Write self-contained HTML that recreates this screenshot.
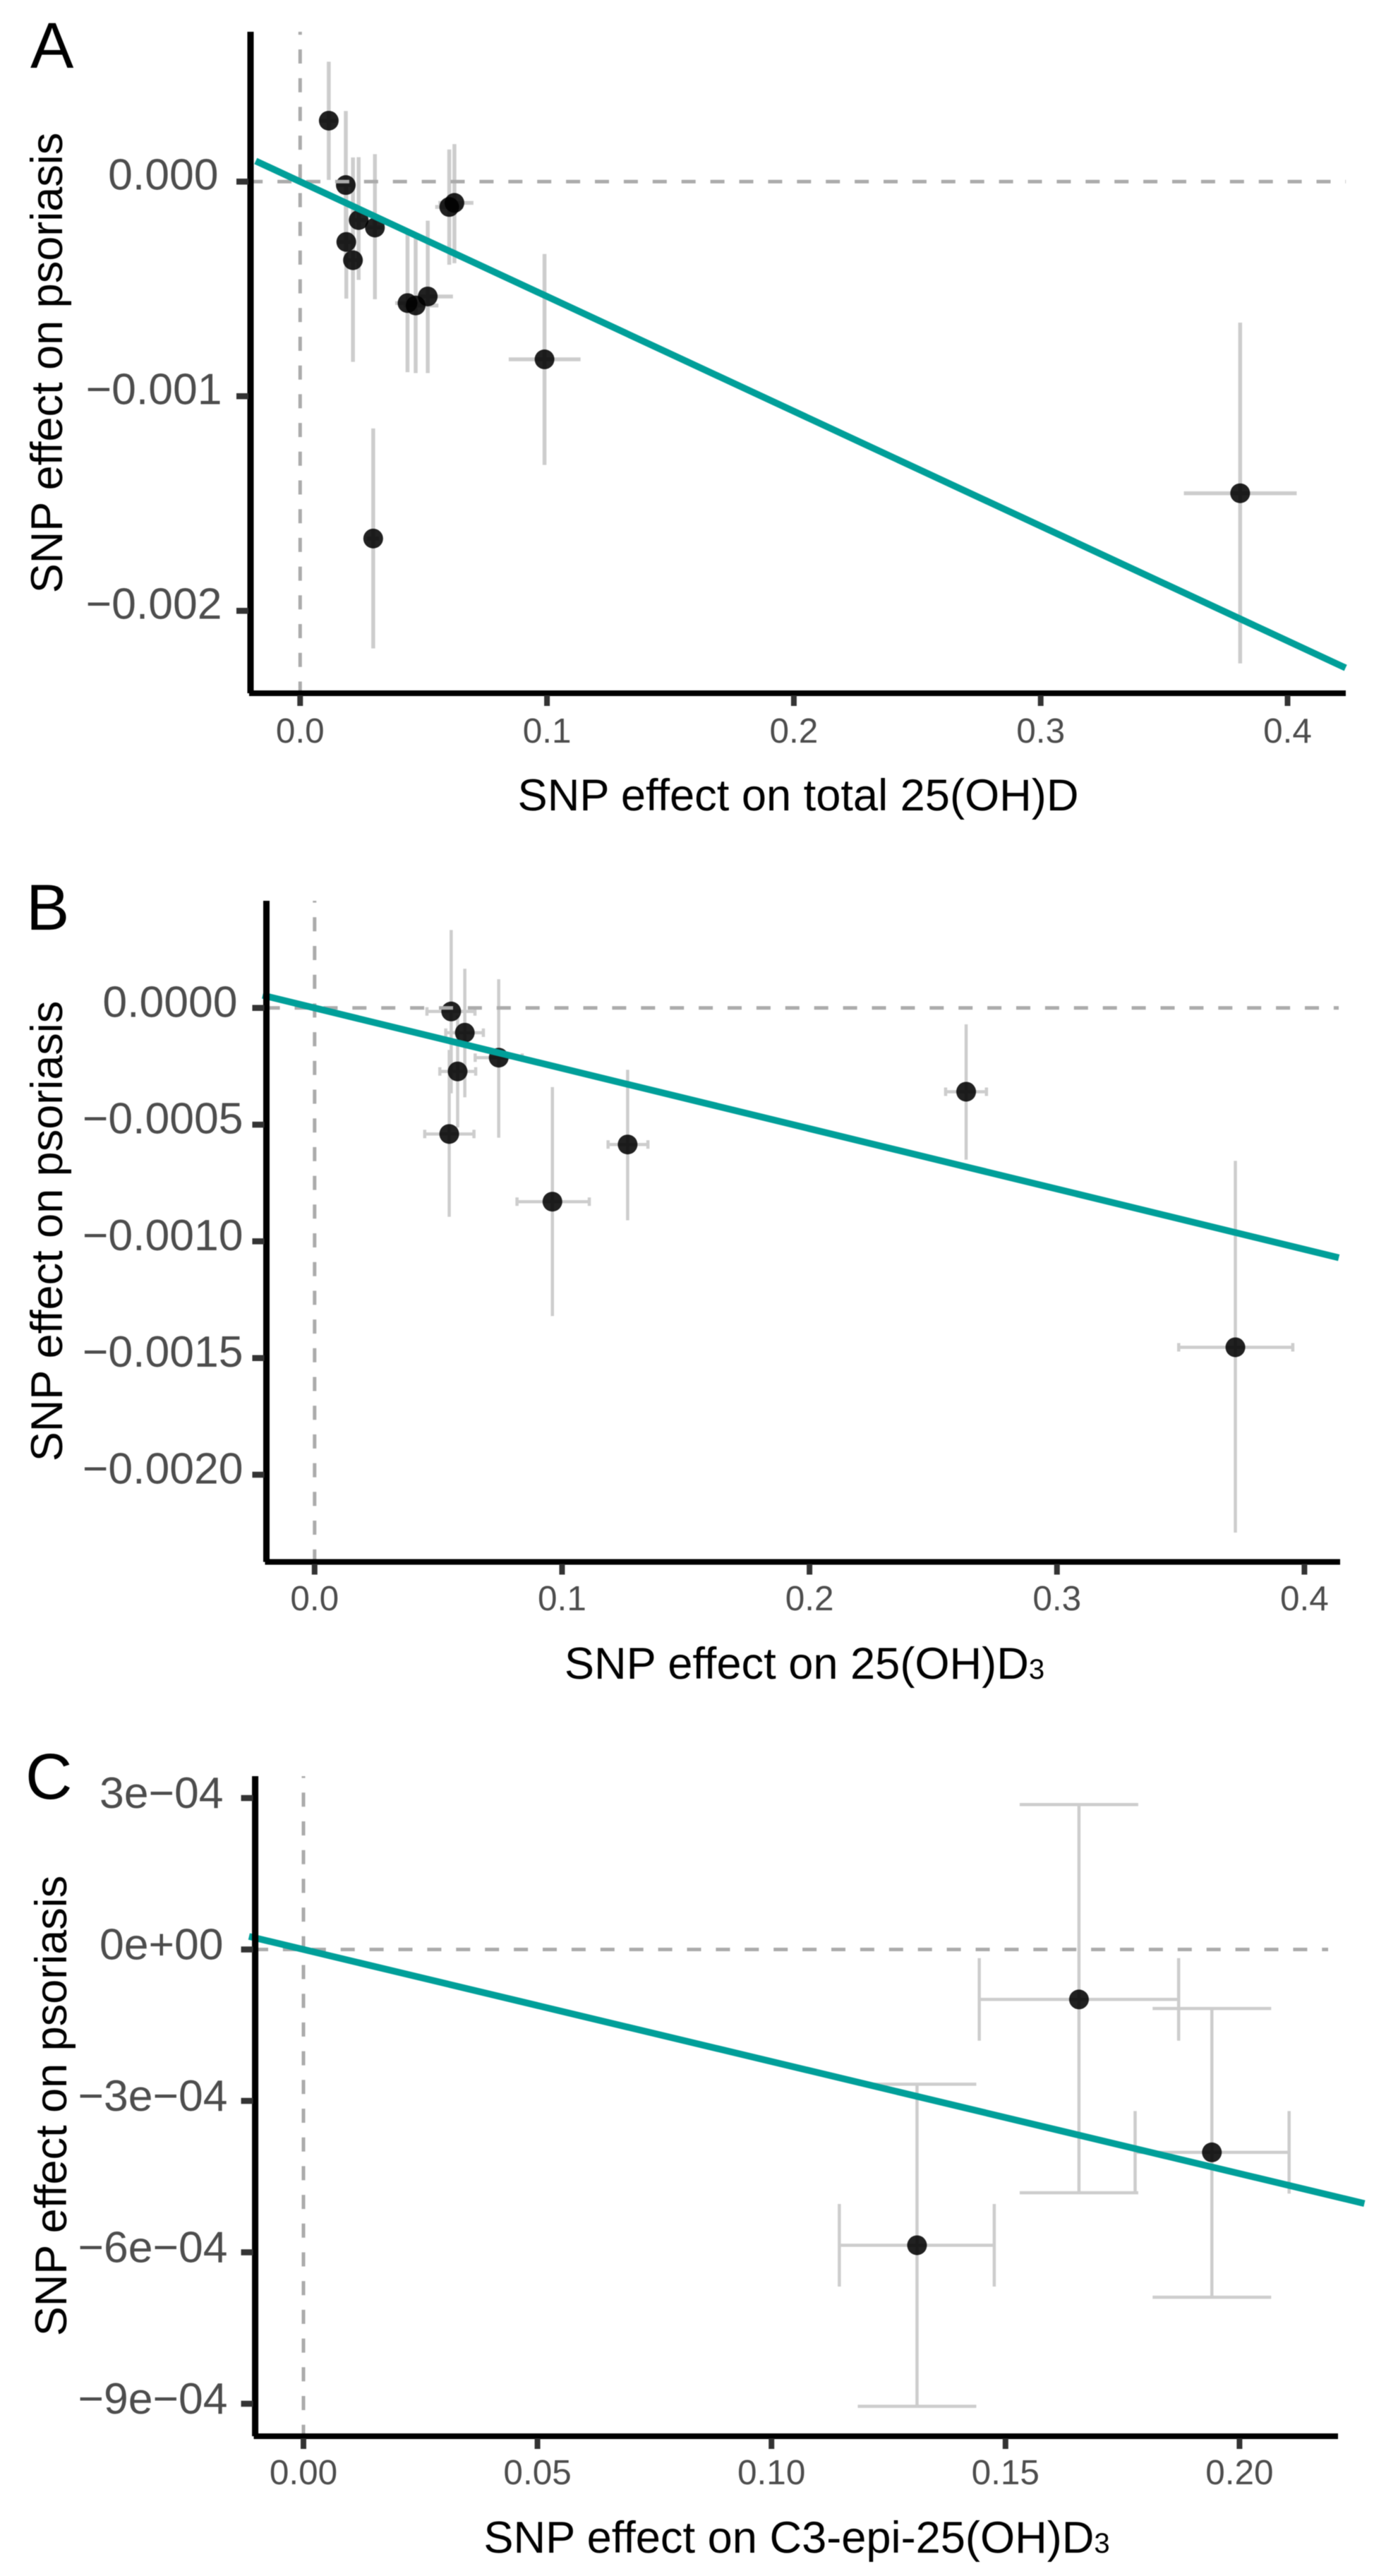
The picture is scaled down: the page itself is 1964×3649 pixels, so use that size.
<!DOCTYPE html>
<html lang="en">
<head>
<meta charset="utf-8">
<title>SNP effect scatter plots on psoriasis</title>
<style>
  html, body { margin: 0; padding: 0; background: #fff; }
  svg { display: block; filter: blur(0.6px); }
  text { font-family: "Liberation Sans", Arial, sans-serif; }
</style>
</head>
<body>
<svg id="figure" xmlns="http://www.w3.org/2000/svg" width="1964" height="3649" viewBox="0 0 1964 3649">
  <rect x="0" y="0" width="1964" height="3649" fill="#ffffff"/>
  <g id="panel-a"></g>
  <g id="panel-b"></g>
  <g id="panel-c"></g>

  <text x="43" y="96" font-size="92" fill="#000">A</text>
  <text x="37" y="1317" font-size="92" fill="#000">B</text>
  <text x="36" y="2548" font-size="92" fill="#000">C</text>

  <text x="1131" y="1148" font-size="63.2" text-anchor="middle" fill="#000">SNP effect on total 25(OH)D</text>
  <text x="1140" y="2378" font-size="63.2" text-anchor="middle" fill="#000">SNP effect on 25(OH)D<tspan font-size="40">3</tspan></text>
  <text x="1129" y="3616" font-size="63.2" text-anchor="middle" fill="#000">SNP effect on C3-epi-25(OH)D<tspan font-size="40">3</tspan></text>

  <text transform="translate(88 514) rotate(-90)" font-size="63" text-anchor="middle" fill="#000">SNP effect on psoriasis</text>
  <text transform="translate(88 1744) rotate(-90)" font-size="63" text-anchor="middle" fill="#000">SNP effect on psoriasis</text>
  <text transform="translate(94 2983) rotate(-90)" font-size="63" text-anchor="middle" fill="#000">SNP effect on psoriasis</text>
</svg>

<script>
// Panel A: total 25(OH)D
const aXValues = [0.0116, 0.0185, 0.0187, 0.0214, 0.0237, 0.0303, 0.0435, 0.0468, 0.0517, 0.0604, 0.0625, 0.0990, 0.0296, 0.3808];
const aXLow    = [0.0080, 0.0150, 0.0150, 0.0180, 0.0200, 0.0270, 0.0385, 0.0420, 0.0470, 0.0547, 0.0560, 0.0845, 0.0270, 0.3580];
const aXHigh   = [0.0150, 0.0220, 0.0220, 0.0250, 0.0275, 0.0335, 0.0490, 0.0560, 0.0619, 0.0660, 0.0702, 0.1136, 0.0320, 0.4037];
const aYValues = [0.000284, -0.000016, -0.000281, -0.000366, -0.000179, -0.000214, -0.000566, -0.000577, -0.000535, -0.000118, -0.000099, -0.000828, -0.001663, -0.001452];
const aYLow    = [0.000008, -0.000360, -0.000545, -0.000840, -0.000458, -0.000548, -0.000888, -0.000892, -0.000892, -0.000387, -0.000380, -0.001320, -0.002175, -0.002245];
const aYHigh   = [0.000559, 0.000329, -0.000016, 0.000113, 0.000114, 0.000128, -0.000243, -0.000262, -0.000182, 0.000150, 0.000175, -0.000337, -0.001150, -0.000657];
const aXTicks = [0, 0.1, 0.2, 0.3, 0.4];
const aXTickLabels = ["0.0", "0.1", "0.2", "0.3", "0.4"];
const aYTicks = [0, -0.001, -0.002];
const aYTickLabels = ["0.000", "\u22120.001", "\u22120.002"];
const aSlope = -0.00535;

// Panel B: 25(OH)D3
const bXValues = [0.0552, 0.0607, 0.0744, 0.0578, 0.0544, 0.0961, 0.1265, 0.2633, 0.3721];
const bXLow    = [0.0454, 0.0530, 0.0649, 0.0506, 0.0445, 0.0818, 0.1186, 0.2550, 0.3492];
const bXHigh   = [0.0648, 0.0682, 0.0839, 0.0651, 0.0644, 0.1110, 0.1347, 0.2715, 0.3953];
const bYValues = [-0.000015, -0.000106, -0.000213, -0.000272, -0.000540, -0.000830, -0.000585, -0.000359, -0.001454];
const bYLow    = [-0.000366, -0.000383, -0.000556, -0.000512, -0.000895, -0.001320, -0.000910, -0.000650, -0.002248];
const bYHigh   = [0.000334, 0.000168, 0.000123, -0.000032, -0.000180, -0.000339, -0.000265, -0.000070, -0.000655];
const bXTicks = [0, 0.1, 0.2, 0.3, 0.4];
const bXTickLabels = ["0.0", "0.1", "0.2", "0.3", "0.4"];
const bYTicks = [0, -0.0005, -0.001, -0.0015, -0.002];
const bYTickLabels = ["0.0000", "\u22120.0005", "\u22120.0010", "\u22120.0015", "\u22120.0020"];
const bSlope = -0.002586;

// Panel C: C3-epi-25(OH)D3
const cXValues = [0.1311, 0.1657, 0.1941];
const cXLow    = [0.1145, 0.1444, 0.1777];
const cXHigh   = [0.1476, 0.1870, 0.2106];
const cYValues = [-0.000586, -0.000099, -0.000402];
const cYLow    = [-0.000905, -0.000482, -0.000689];
const cYHigh   = [-0.000267, 0.000287, -0.000117];
const cXTicks = [0, 0.05, 0.1, 0.15, 0.2];
const cXTickLabels = ["0.00", "0.05", "0.10", "0.15", "0.20"];
const cYTicks = [0.0003, 0, -0.0003, -0.0006, -0.0009];
const cYTickLabels = ["3e\u221204", "0e+00", "\u22123e\u221204", "\u22126e\u221204", "\u22129e\u221204"];
const cSlope = -0.00222;

const SVG_NS = "http://www.w3.org/2000/svg";

function shape(parent, tag, attrs) {
  const node = document.createElementNS(SVG_NS, tag);
  for (const key in attrs) node.setAttribute(key, attrs[key]);
  parent.appendChild(node);
  return node;
}

function drawPanel(cfg) {
  const root = document.getElementById(cfg.id);
  const sx = v => cfg.x0 + v * cfg.xScale;
  const sy = v => cfg.y0 - v * cfg.yScale;

  // error bars
  cfg.xs.forEach((x, i) => {
    let el = shape(root, "line", { x1: sx(x), x2: sx(x), y1: sy(cfg.yLow[i]), y2: sy(cfg.yHigh[i]), stroke: "#cdcdcd", "stroke-width": cfg.errWidth });
    
    
    el = shape(root, "line", { x1: sx(cfg.xLow[i]), x2: sx(cfg.xHigh[i]), y1: sy(cfg.ys[i]), y2: sy(cfg.ys[i]), stroke: "#cdcdcd", "stroke-width": cfg.errWidth });
    
    
    if (cfg.capW > 0) {
      [cfg.yLow[i], cfg.yHigh[i]].forEach(v => {
        const cap = shape(root, "line", { x1: sx(x) - cfg.capW, x2: sx(x) + cfg.capW, y1: sy(v), y2: sy(v), stroke: "#cdcdcd", "stroke-width": cfg.errWidth });
        
        
      });
    }
    if (cfg.capH > 0) {
      [cfg.xLow[i], cfg.xHigh[i]].forEach(v => {
        const cap = shape(root, "line", { x1: sx(v), x2: sx(v), y1: sy(cfg.ys[i]) - cfg.capH, y2: sy(cfg.ys[i]) + cfg.capH, stroke: "#cdcdcd", "stroke-width": cfg.errWidth });
        
        
      });
    }
  });

  // points
  cfg.xs.forEach((x, i) => {
    const dot = shape(root, "circle", { cx: sx(x), cy: sy(cfg.ys[i]), r: 14, fill: "#000", "fill-opacity": 0.87 });
    
    
  });

  // zero reference lines
  const hZero = shape(root, "line", { x1: cfg.axisX + 4, x2: cfg.hEnd, y1: sy(0), y2: sy(0), stroke: "#ababab", "stroke-width": 5, "stroke-dasharray": "20 20.9", "stroke-dashoffset": cfg.hPhase });
  
  
  const vZero = shape(root, "line", { x1: sx(0), x2: sx(0), y1: cfg.axisTop, y2: cfg.axisY, stroke: "#ababab", "stroke-width": 5, "stroke-dasharray": "20 20.7", "stroke-dashoffset": cfg.vPhase });
  
  

  // regression line
  const fit = shape(root, "line", { x1: sx(cfg.lineFrom), x2: sx(cfg.lineTo), y1: sy(cfg.slope * cfg.lineFrom), y2: sy(cfg.slope * cfg.lineTo), stroke: "#009f99", "stroke-width": 9.5 });
  
  

  // axes
  const yAxis = shape(root, "line", { x1: cfg.axisX, x2: cfg.axisX, y1: cfg.axisTop, y2: cfg.axisY, stroke: "#000", "stroke-width": 9 });
  
  
  const xAxis = shape(root, "line", { x1: cfg.axisX - 2, x2: cfg.axisEnd, y1: cfg.axisY, y2: cfg.axisY, stroke: "#000", "stroke-width": 8 });
  
  

  // x ticks
  cfg.xTicks.forEach((v, i) => {
    const tick = shape(root, "line", { x1: sx(v), x2: sx(v), y1: cfg.axisY + 3, y2: cfg.axisY + 18, stroke: "#333", "stroke-width": 8 });
    
    
    const label = shape(root, "text", { x: sx(v), y: cfg.xLabelY, "font-size": 49.5, "text-anchor": "middle", fill: "#4d4d4d" });
    label.textContent = cfg.xTickLabels[i];
    
    
  });

  // y ticks
  cfg.yTicks.forEach((v, i) => {
    const tick = shape(root, "line", { x1: cfg.axisX - 20, x2: cfg.axisX - 3, y1: sy(v), y2: sy(v), stroke: "#333", "stroke-width": 8.5 });
    
    
    const text = cfg.yTickLabels[i];
    const right = cfg.yLabelRight + (text.charAt(0) === "\u2212" ? cfg.negShift : 0);
    const label = shape(root, "text", { x: right, y: sy(v) - cfg.yLabelLift + 23, "font-size": 62.5, "text-anchor": "end", fill: "#4d4d4d" });
    label.textContent = text;
    
    
  });
}

drawPanel({
  id: "panel-a", xs: aXValues, xLow: aXLow, xHigh: aXHigh, ys: aYValues, yLow: aYLow, yHigh: aYHigh,
  xTicks: aXTicks, xTickLabels: aXTickLabels, yTicks: aYTicks, yTickLabels: aYTickLabels, slope: aSlope,
  x0: 425.3, xScale: 3498, y0: 257.3, yScale: 304000,
  axisX: 355, axisTop: 45, axisY: 982, axisEnd: 1907, hEnd: 1907,
  lineFrom: -0.018, lineTo: 0.4235, errWidth: 5.5, capW: 0, capH: 0,
  hPhase: 6.8, vPhase: 15.7, xLabelY: 1052, yLabelRight: 309.5, negShift: 5, yLabelLift: 12
});

drawPanel({
  id: "panel-b", xs: bXValues, xLow: bXLow, xHigh: bXHigh, ys: bYValues, yLow: bYLow, yHigh: bYHigh,
  xTicks: bXTicks, xTickLabels: bXTickLabels, yTicks: bYTicks, yTickLabels: bYTickLabels, slope: bSlope,
  x0: 445.8, xScale: 3506.5, y0: 1427.8, yScale: 330600,
  axisX: 377.5, axisTop: 1276, axisY: 2212.5, axisEnd: 1899, hEnd: 1897,
  lineFrom: -0.021, lineTo: 0.4139, errWidth: 4.5, capW: 0, capH: 6,
  hPhase: 4.9, vPhase: 17.4, xLabelY: 2281, yLabelRight: 336.5, negShift: 8, yLabelLift: 10.5
});

drawPanel({
  id: "panel-c", xs: cXValues, xLow: cXLow, xHigh: cXHigh, ys: cYValues, yLow: cYLow, yHigh: cYHigh,
  xTicks: cXTicks, xTickLabels: cXTickLabels, yTicks: cYTicks, yTickLabels: cYTickLabels, slope: cSlope,
  x0: 430, xScale: 6632, y0: 2761.5, yScale: 715000,
  axisX: 361.6, axisTop: 2516, axisY: 3451, axisEnd: 1896, hEnd: 1882,
  lineFrom: -0.01163, lineTo: 0.22669, errWidth: 4.5, capW: 84, capH: 58.5,
  hPhase: 5.6, vPhase: 17.4, xLabelY: 3519, yLabelRight: 316.5, negShift: 6, yLabelLift: 9
});
</script>
</body>
</html>
